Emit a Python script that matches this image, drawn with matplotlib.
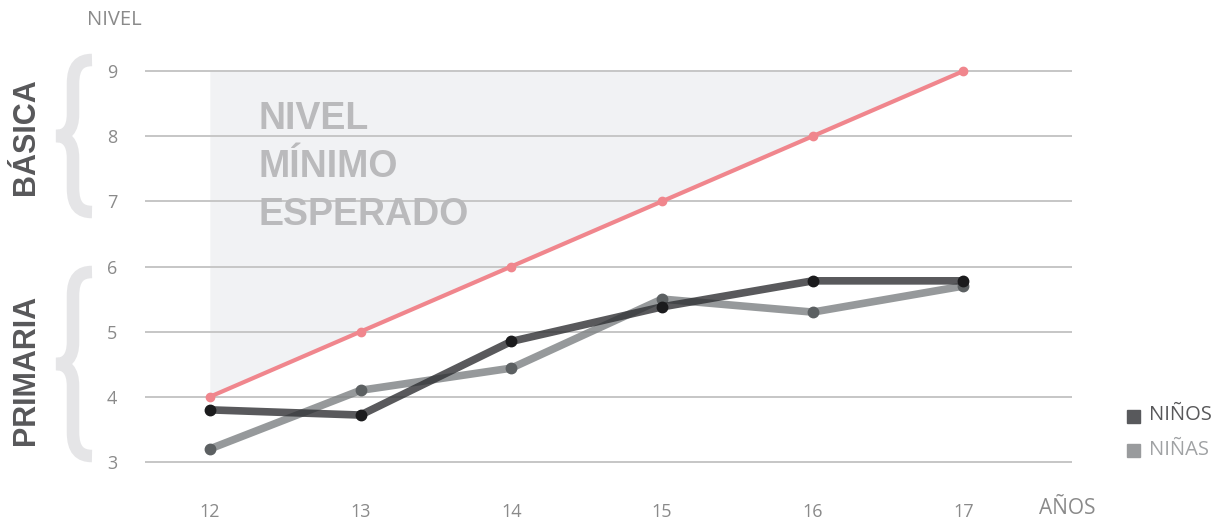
import matplotlib.pyplot as plt
from matplotlib.path import Path
from matplotlib.patches import PathPatch
import matplotlib.transforms as mtrans

# datos
anios = [12, 13, 14, 15, 16, 17]
esperado = [4, 5, 6, 7, 8, 9]
ninos = [3.8, 3.72, 4.85, 5.38, 5.78, 5.78]
ninas = [3.2, 4.1, 4.44, 5.5, 5.3, 5.7]
niveles = [3, 4, 5, 6, 7, 8, 9]

W, H = 1222, 519
fig = plt.figure(figsize=(W / 100, H / 100), dpi=100)
ax = fig.add_axes([145 / W, (H - 475) / H, (1072 - 145) / W, (475 - 58) / H])
ax.set_xlim(11.57, 17.72)
ax.set_ylim(2.8, 9.2)

for s in ax.spines.values():
    s.set_visible(False)

for n in niveles:
    ax.axhline(n, color='#c6c6c6', lw=1.4, zorder=1)

# zona del nivel minimo esperado
ax.fill_between(anios, esperado, 9, color='#f1f2f4', lw=0, zorder=0)
ax.text(12.32, 7.53, "NIVEL\nMÍNIMO\nESPERADO", fontsize=27, fontweight='bold',
        family='Liberation Sans', color='#bababc', va='center', ha='left',
        linespacing=1.42, zorder=2)

ax.plot(anios, esperado, color='#f0868d', lw=3, marker='o', ms=6, zorder=3)
ax.plot(anios, ninas, color='#7c8082', alpha=0.8, lw=5.5,
        solid_capstyle='butt', zorder=4)
ax.plot(anios, ninas, ls='none', marker='o', ms=7.5, color='#5c6062', zorder=4)
ax.plot(anios, ninos, color='#2f3033', alpha=0.8, lw=5.5,
        solid_capstyle='butt', zorder=5)
ax.plot(anios, ninos, ls='none', marker='o', ms=7.5, color='#1b1b1d', zorder=5)

ax.set_xticks(anios)
ax.set_yticks(niveles)
ax.tick_params(length=0, colors='#8a8a8a', labelsize=13)
for lab in ax.get_xticklabels() + ax.get_yticklabels():
    lab.set_family('Open Sans')
ax.tick_params(axis='x', pad=20)
ax.tick_params(axis='y', pad=20)

fig.text(114 / W, 1 - 20 / H, "NIVEL", ha='center', va='center', fontsize=14.5,
         color='#8a8a8a', family='Open Sans')
fig.text(1067 / W, 1 - 508 / H, "AÑOS", ha='center', va='center', fontsize=15,
         color='#8a8a8a', family='Open Sans')

# llaves
px = mtrans.Affine2D().scale(1 / W, 1 / H) + fig.transFigure


def llave(y0, y1):
    ym = (y0 + y1) / 2
    pts = [(92, y0), (80, y0), (73, y0 + 6), (73, y0 + 24),
           (73, ym - 22),
           (73, ym - 6), (66, ym), (56, ym),
           (66, ym), (73, ym + 6), (73, ym + 22),
           (73, y1 - 24),
           (73, y1 - 6), (80, y1), (92, y1)]
    codes = [Path.MOVETO, Path.CURVE4, Path.CURVE4, Path.CURVE4,
             Path.LINETO,
             Path.CURVE4, Path.CURVE4, Path.CURVE4,
             Path.CURVE4, Path.CURVE4, Path.CURVE4,
             Path.LINETO,
             Path.CURVE4, Path.CURVE4, Path.CURVE4]
    pts = [(x, H - y) for x, y in pts]
    fig.patches.append(PathPatch(Path(pts, codes), transform=px, fill=False,
                                 edgecolor='#e5e5e7', lw=9, capstyle='butt'))


llave(60, 212)
llave(272, 456)

fig.text(26 / W, 1 - 137 / H, "BÁSICA", rotation=90, ha='center', va='center',
         fontsize=22, fontweight='bold', color='#58585a', family='Liberation Sans')
fig.text(26 / W, 1 - 370 / H, "PRIMARIA", rotation=90, ha='center', va='center',
         fontsize=22, fontweight='bold', color='#58585a', family='Liberation Sans')

# leyenda
fig.patches.append(plt.Rectangle((1127 / W, 1 - 423 / H), 13 / W, 13 / H,
                                 transform=fig.transFigure, color='#58595c'))
fig.patches.append(plt.Rectangle((1127 / W, 1 - 457 / H), 13 / W, 13 / H,
                                 transform=fig.transFigure, color='#999b9d'))
fig.text(1149 / W, 1 - 415 / H, "NIÑOS", va='center', fontsize=14.5,
         color='#58585a', family='Open Sans')
fig.text(1149 / W, 1 - 450 / H, "NIÑAS", va='center', fontsize=14.5,
         color='#a0a2a4', family='Open Sans')

fig.savefig('out.png', dpi=100)
